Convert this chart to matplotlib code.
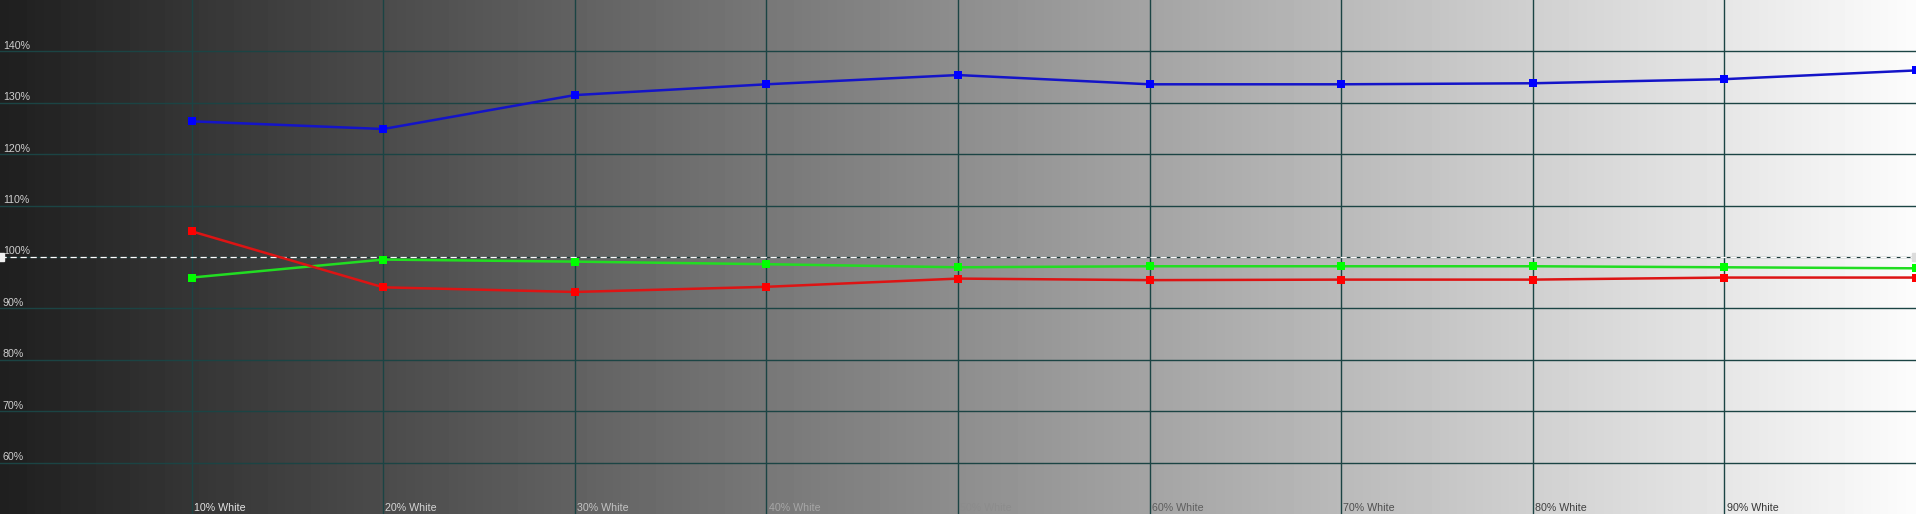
import numpy as np
import matplotlib
matplotlib.use("Agg")
import matplotlib.pyplot as plt

# Data (RGB balance per grayscale step)
niveis = [10, 20, 30, 40, 50, 60, 70, 80, 90, 100]
rotulos_x = ["10% White", "20% White", "30% White", "40% White", "50% White",
             "60% White", "70% White", "80% White", "90% White"]
azul = [126.4, 124.9, 131.5, 133.6, 135.4, 133.6, 133.6, 133.8, 134.6, 136.3]
verde = [96.0, 99.5, 99.1, 98.6, 98.0, 98.2, 98.2, 98.2, 98.0, 97.8]
vermelho = [105.0, 94.1, 93.2, 94.2, 95.8, 95.5, 95.6, 95.6, 96.0, 96.0]
ticks_y = [60, 70, 80, 90, 100, 110, 120, 130, 140]

# text colours of the bottom labels (they darken as the background gets lighter)
cores_rotulos = ["#e4e4e4", "#d6d6d6", "#c4c4c4", "#a6a6a6", "#8c8c8c",
                 "#5e5e5e", "#4e4e4e", "#404040", "#353535"]

plt.rcParams['font.family'] = ['Liberation Sans', 'DejaVu Sans']

fig = plt.figure(figsize=(19.16, 5.14), dpi=100)
ax = fig.add_axes([0, 0, 1, 1])
ax.set_xlim(0, 100)
ax.set_ylim(50, 150)
ax.axis('off')

# grayscale gradient background
grad = np.linspace(31, 252, 512).reshape(1, -1) / 255.0
ax.imshow(grad, extent=[0, 100, 50, 150], aspect='auto', cmap='gray',
          vmin=0, vmax=1, zorder=0, interpolation='bilinear')

# grid
cor_grade = '#1b4444'
for v in ticks_y:
    if v != 100:
        ax.axhline(v, color=cor_grade, linewidth=1.0, zorder=1)
for n in niveis[:-1]:
    ax.axvline(n, color=cor_grade, linewidth=1.0, zorder=1)

# reference line at 100%: dark line with white dashes
ax.axhline(100, color='#1a3838', linewidth=0.9, zorder=2)
ax.axhline(100, color='white', linewidth=0.9, linestyle=(0, (5, 3)), zorder=2)
ax.plot([0], [100], marker='s', markersize=6, color='#f0f0f0', clip_on=True, zorder=3)
ax.plot([100], [100], marker='s', markersize=6, color='#dcdcdc', clip_on=True, zorder=3)

# series
ax.plot(niveis, azul, color='#1414c8', linewidth=1.8, marker='s', markersize=6,
        markerfacecolor='#0000ff', markeredgewidth=0, zorder=4)
ax.plot(niveis, verde, color='#22dd22', linewidth=1.8, marker='s', markersize=6,
        markerfacecolor='#00ff00', markeredgewidth=0, zorder=4)
ax.plot(niveis, vermelho, color='#dd1414', linewidth=1.8, marker='s', markersize=6,
        markerfacecolor='#ff0000', markeredgewidth=0, zorder=5)

# y labels
for v in ticks_y:
    ax.text(0.15, v + 0.5, f"{v}%", color='#cfcfcf', fontsize=7.7,
            ha='left', va='baseline', zorder=6)

# x labels
for n, rot, cor in zip(niveis, rotulos_x, cores_rotulos):
    ax.text(n + 0.12, 50.65, rot, color=cor, fontsize=7.7,
            ha='left', va='baseline', zorder=6)

fig.savefig("out.png", dpi=100)
